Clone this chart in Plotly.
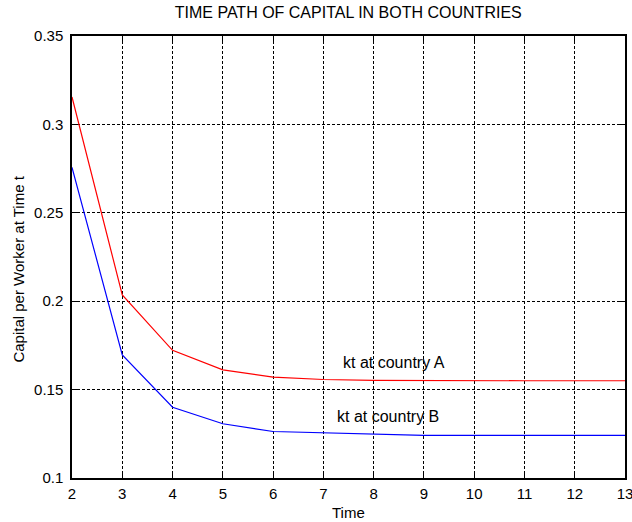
import plotly.graph_objects as go

time = [2, 3, 4, 5, 6, 7, 8, 9, 10, 11, 12, 13]
k_country_a = [0.3155, 0.2035, 0.1722, 0.1612, 0.1571, 0.1557, 0.1552, 0.1550, 0.1550, 0.1550, 0.1550, 0.1550]
k_country_b = [0.2757, 0.1696, 0.1400, 0.1307, 0.1263, 0.1256, 0.1248, 0.1241, 0.1241, 0.1241, 0.1241, 0.1241]
x_ticks = list(range(2, 14))
y_ticks = [0.1, 0.15, 0.2, 0.25, 0.3, 0.35]
y_tick_labels = ["0.1", "0.15", "0.2", "0.25", "0.3", "0.35"]
title = "TIME PATH OF CAPITAL IN BOTH COUNTRIES"
x_title = "Time"
y_title = "Capital per Worker at Time t"
label_a = "kt at country A"
label_b = "kt at country B"

FONT = "Liberation Sans, Arial, Helvetica, sans-serif"

fig = go.Figure()
fig.add_trace(go.Scatter(x=time, y=k_country_a, mode="lines",
                         line=dict(color="#ff0000", width=1.2), name=label_a))
fig.add_trace(go.Scatter(x=time, y=k_country_b, mode="lines",
                         line=dict(color="#0000ff", width=1.2), name=label_b))

fig.add_annotation(x=7.35, y=0.1651, text=label_a, showarrow=False,
                   xanchor="left", yanchor="middle",
                   font=dict(family=FONT, size=16, color="black"))
fig.add_annotation(x=7.24, y=0.1348, text=label_b, showarrow=False,
                   xanchor="left", yanchor="middle",
                   font=dict(family=FONT, size=16, color="black"))

# axis titles placed as annotations for exact positioning
fig.add_annotation(xref="paper", yref="paper", x=0.500, y=-0.077, text=x_title,
                   showarrow=False, xanchor="center", yanchor="middle",
                   font=dict(family=FONT, size=15, color="black"))
fig.add_annotation(xref="paper", yref="paper", x=-0.0964, y=0.473, text=y_title,
                   showarrow=False, xanchor="center", yanchor="middle", textangle=-90,
                   font=dict(family=FONT, size=15, color="black"))

axis_common = dict(
    showline=True, linecolor="black", linewidth=1.5, mirror="ticks",
    ticks="inside", ticklen=5, tickcolor="black", tickwidth=1,
    showgrid=True, gridcolor="black", gridwidth=1, griddash="3px,2px",
    zeroline=False, automargin=False, ticklabeloverflow="allow",
    tickfont=dict(family=FONT, size=15, color="black"),
)

fig.update_layout(
    template="none",
    width=632, height=522,
    paper_bgcolor="white", plot_bgcolor="white",
    margin=dict(l=72, r=7, t=36, b=44, autoexpand=False),
    showlegend=False,
    title=dict(text=title, x=0.551, xanchor="center", y=1 - 12/522, yanchor="middle",
               font=dict(family=FONT, size=16, color="black")),
    xaxis=dict(range=[2, 13], tickvals=x_ticks, ticktext=[str(v) for v in x_ticks],
               ticklabelstandoff=1, **axis_common),
    yaxis=dict(range=[0.1, 0.35], tickvals=y_ticks, ticktext=y_tick_labels,
               ticklabelstandoff=4, **axis_common),
)

fig.write_html("out.html",
               config={"displayModeBar": False},
               post_script="document.body.style.margin='0';document.body.style.overflow='hidden';")
